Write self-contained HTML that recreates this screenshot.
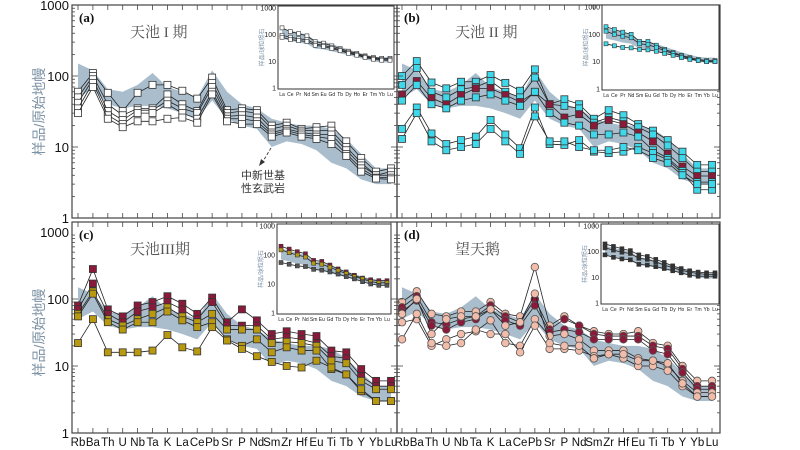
<!DOCTYPE html>
<html><head><meta charset="utf-8"><style>
html,body{margin:0;padding:0;background:#fff;}
svg{display:block;font-family:"Liberation Sans","Noto Sans CJK SC",sans-serif;}
</style></head><body>
<svg id="fig" width="800" height="450" viewBox="0 0 800 450" xmlns="http://www.w3.org/2000/svg">
<rect width="800" height="450" fill="#fff"/>
<g id="layer"></g>
</svg>
<script>
const categories=["Rb","Ba","Th","U","Nb","Ta","K","La","Ce","Pb","Sr","P","Nd","Sm","Zr","Hf","Eu","Ti","Tb","Y","Yb","Lu"];
const reeCategories=["La","Ce","Pr","Nd","Sm","Eu","Gd","Tb","Dy","Ho","Er","Tm","Yb","Lu"];
const yTicks=[1000,100,10,1];
const bandUpper=[150,120,65,60,75,110,70,60,50,120,60,40,35,25,22,20,20,18,13,8,5,5];
const bandLower=[50,65,40,35,38,38,35,30,25,45,25,20,18,10,12,11,9,6,5,3.5,3,3];
const reeBandUpper=[170,140,120,100,60,55,45,35,28,22,18,15,14,14];
const reeBandLower=[70,60,50,45,30,28,24,20,17,14,12,10,9,9];
// panel a
const seriesA1=[60,110,58,32,58,75,75,62,48,95,33,35,33,20,22,18,19,20,12,7,4.5,5];
const seriesA2=[50,100,40,28,35,35,55,40,32,80,30,32,30,18,20,17,17,17,10,6,4,4.5];
const seriesA3=[42,90,32,24,33,33,45,35,30,70,27,28,26,16,18,16,15,15,9,5.5,4,4];
const seriesA4=[35,80,28,21,30,30,40,30,25,60,25,25,23,15,17,15,14,13,8,5,3.7,3.7];
const seriesA5=[30,70,25,19,23,23,25,26,22,55,23,21,21,14,16,14,13,11,7.5,4.5,3.6,3.5];
const reeA1=[180,130,110,90,55,48,38,30,24,20,16,14,13,13];
const reeA2=[95,80,70,65,45,40,33,27,22,18,15,13,12,12];
const reeA3=[80,65,60,55,40,36,30,25,20,17,14,12,11,11];
// panel b
const seriesB1=[100,162,81,67,83,83,103,80,62,124,40,47,40,25,33,28,21,17,12.5,8.6,5.6,5.6];
const seriesB2=[75,130,60,50,65,70,85,60,50,95,40,38,35,22,26,23,19,15,10.5,7,4.5,4.5];
const seriesB3=[55,85,49,40,54,67,67,54,43,59,40,26,29,20,24,21,16,12,8,5.3,3.9,3.9];
const seriesB4=[45,75,40,35,45,50,55,45,38,60,30,22,20,15,15,16,14,9,7,4.6,3.2,3.2];
const seriesB5=[18,36,15.5,11,12.5,14,24,15,9.6,36,11,10.7,12.5,8.6,8.2,8.6,10,8.2,6.6,4.3,2.5,2.5];
const seriesB6=[13,30,12,9,10,11,18,12,8,27,12,12,10,9,9,10,9,7,6,4,3,3];
const reeB1=[190,150,120,100,55,55,40,28,22,17,14,12,11,11];
const reeB2=[130,100,85,75,45,42,33,25,20,16,13,11,10,10];
const reeB3=[45,38,33,32,28,27,24,20,17,14,12,11,10,10];
// panel c
const seriesC1=[80,280,70,55,80,90,110,85,60,105,45,70,48,30,33,30,28,17,16,9,6,6];
const seriesC2=[70,170,60,45,65,75,90,70,50,90,40,40,40,25,27,25,22,14,13,7,5,5];
const seriesC3=[60,130,50,40,50,60,75,55,45,60,35,35,35,22,23,22,20,12,11,6,4.5,4.5];
const seriesC4=[55,120,45,35,45,45,65,48,38,45,25,20,25,16,19,17,17,9,7.5,4.2,3,3];
const seriesC5=[22,50,16,16,16,17,29,19,16.5,38,24,18,14,11.5,10,9.5,12,9.5,7.5,4.5,3,3];
const reeC1=[200,160,130,110,65,60,45,33,26,20,16,14,13,13];
const reeC2=[150,120,100,85,52,48,38,29,23,18,15,12,11,11];
const reeC3=[55,48,42,40,32,30,26,22,18,15,12,10,9,9];
// panel d
const seriesD1=[90,130,60,55,65,65,90,60,55,300,40,55,40,33,30,30,33,22,20,10,6,6];
const seriesD2=[75,110,45,42,50,55,80,55,45,100,35,50,40,30,28,28,28,20,18,9,5,5];
const seriesD3=[65,95,40,35,45,50,70,48,40,80,32,35,32,25,25,25,25,17,15,8,4.5,4.5];
const seriesD4=[45,50,20,25,30,33,48,22,20,50,28,30,25,17,17,17,13,12,10,6,4,4];
const seriesD5=[25,60,22,20,22,35,30,30,16,40,18,18,17,14,15,13,10,10,8.5,5,3.5,3.5];
const seriesD6=[60,100,30,50,55,55,70,40,45,120,22,20,20,13,15,15,12,12,11,5.5,3.5,3.5];
const reeD1=[200,160,130,110,75,65,50,38,28,22,18,16,15,15];
const reeD2=[140,115,95,85,55,50,40,30,24,19,16,14,13,13];
const reeD3=[75,60,52,48,32,30,26,22,18,15,12,11,11,11];

const NS="http://www.w3.org/2000/svg";
const layer=document.getElementById('layer');
function mk(tag,attrs,parent){const e=document.createElementNS(NS,tag);for(const k in attrs)e.setAttribute(k,attrs[k]);(parent||layer).appendChild(e);return e;}

const panels=[
 {id:'a',box:[72,5,397,218],x0:78,x1:391,yT:5,yB:218,label:'(a)',title:'天池 I 期',inset:[278,6,394,89],mark:'sq',
  series:[seriesA1,seriesA2,seriesA3,seriesA4,seriesA5],colors:['#fff','#fff','#fff','#fff','#fff'],ree:[reeA1,reeA2,reeA3],reeColors:['#fff','#fff','#fff'],ylab:true},
 {id:'b',box:[397,5,720,218],x0:402,x1:712,yT:5,yB:218,label:'(b)',title:'天池 II 期',inset:[602,5,719,90],mark:'sq',
  series:[seriesB1,seriesB2,seriesB3,seriesB4,seriesB5,seriesB6],colors:['#3fd8ea','#3fd8ea','#8b1a3a','#3fd8ea','#3fd8ea','#3fd8ea'],ree:[reeB1,reeB2,reeB3],reeColors:['#3fd8ea','#3fd8ea','#3fd8ea'],ylab:false},
 {id:'c',box:[72,222,397,433],x0:78,x1:391,yT:232,yB:433,label:'(c)',title:'天池III期',inset:[277,224,391,314],mark:'sq',
  series:[seriesC1,seriesC2,seriesC3,seriesC4,seriesC5],colors:['#8b1a3a','#8b1a3a','#b8990f','#b8990f','#b8990f'],ree:[reeC1,reeC2,reeC3],reeColors:['#8b1a3a','#b8990f','#555'],ylab:true},
 {id:'d',box:[397,222,720,433],x0:402,x1:712,yT:232,yB:433,label:'(d)',title:'望天鹅',inset:[601,224,719,304],mark:'ci',
  series:[seriesD1,seriesD2,seriesD3,seriesD4,seriesD5,seriesD6],colors:['#f2bcaa','#8b1a3a','#8b1a3a','#f2bcaa','#f2bcaa','#f2bcaa'],ree:[reeD1,reeD2,reeD3],reeColors:['#333','#333','#333'],ylab:false}
];

function yScale(v,yT,yB){return yB-(Math.log10(v)/3)*(yB-yT);}

panels.forEach(p=>{
 const g=mk('g',{});
 
 
 const step=(p.x1-p.x0)/(categories.length-1);
 const xs=i=>p.x0+i*step;
 const ys=v=>yScale(v,p.yT,p.yB);
 let d='';
 bandUpper.forEach((v,i)=>{d+=(i?'L':'M')+xs(i)+' '+ys(v);});
 for(let i=bandLower.length-1;i>=0;i--)d+='L'+xs(i)+' '+ys(bandLower[i]);
 const band=mk('path',{d:d+'Z',fill:'#a9bdcc',stroke:'none'},g);
 
 
 p.series.forEach((s,si)=>{
  const pts=s.map((v,i)=>xs(i)+','+ys(v)).join(' ');
  const ln=mk('polyline',{points:pts,fill:'none',stroke:'#222','stroke-width':0.8},g);
  
  
  s.forEach((v,i)=>{
   let m;
   if(p.mark==='sq') m=mk('rect',{x:xs(i)-3.5,y:ys(v)-3.5,width:7,height:7,fill:p.colors[si],stroke:'#333','stroke-width':0.8},g);
   else m=mk('circle',{cx:xs(i),cy:ys(v),r:3.8,fill:p.colors[si],stroke:'#555','stroke-width':0.8},g);
   
   
  });
 });
 const [bx0,by0,bx1,by1]=p.box;
 const fr=mk('rect',{x:bx0,y:by0,width:bx1-bx0,height:by1-by0,fill:'none',stroke:'#444','stroke-width':1.2},g);
 
 
 categories.forEach((c,i)=>{
  mk('line',{x1:xs(i),x2:xs(i),y1:by1,y2:by1-5,stroke:'#444','stroke-width':0.8},g);
  mk('line',{x1:xs(i),x2:xs(i),y1:by0,y2:by0+5,stroke:'#444','stroke-width':0.8},g);
  if(p.id==='c'||p.id==='d'){
   const t=mk('text',{x:xs(i),y:446,'font-size':11.5,'text-anchor':'middle',fill:'#111'},g);
   t.textContent=c;
   
   
  }
 });
 for(let dec=0;dec<3;dec++){
  for(let k=1;k<10;k++){
   const v=Math.pow(10,dec)*k;const y=ys(v);
   mk('line',{x1:bx0,x2:bx0+(k===1?6:3),y1:y,y2:y,stroke:'#444','stroke-width':0.8},g);
   mk('line',{x1:bx1,x2:bx1-(k===1?6:3),y1:y,y2:y,stroke:'#444','stroke-width':0.8},g);
  }
 }
 if(p.ylab){
  yTicks.forEach(v=>{
   const t=mk('text',{x:bx0-3,y:ys(v)+5,'font-size':13,'text-anchor':'end',fill:'#111'},g);
   t.textContent=String(v);
   
   
  });
  const cy=(p.yT+p.yB)/2;
  const yt=mk('text',{x:44,y:cy,'font-size':14,'text-anchor':'middle',fill:'#7e93a6',transform:'rotate(-90 44 '+cy+')'},g);
  yt.textContent='样品/原始地幔';
  
  
 }
 const lb=mk('text',{x:bx0+7,y:by0+17,'font-size':13,'font-weight':'bold',fill:'#111','font-family':'Liberation Serif,serif'},g);
 lb.textContent=p.label;
 
 
 const tt=mk('text',{x:bx0+58,y:by0+32,'font-size':15,fill:'#555','font-family':'Liberation Serif,Noto Serif CJK SC,serif'},g);
 tt.textContent=p.title;
 
 
 const [ix0,iy0,ix1,iy1]=p.inset;
 const ig=mk('g',{},g);
 
 
 mk('rect',{x:ix0,y:iy0,width:ix1-ix0,height:iy1-iy0,fill:'#fff',stroke:'#333','stroke-width':1},ig);
 const iyT=iy0+2,iyB=iy1-1;
 const istep=(ix1-ix0-8)/(reeCategories.length-1);
 const ixs=i=>ix0+4+i*istep;
 const iys=v=>yScale(v,iyT,iyB);
 let bd='';
 reeBandUpper.forEach((v,i)=>{bd+=(i?'L':'M')+ixs(i)+' '+iys(v);});
 for(let i=reeBandLower.length-1;i>=0;i--)bd+='L'+ixs(i)+' '+iys(reeBandLower[i]);
 const ib=mk('path',{d:bd+'Z',fill:'#a9bdcc'},ig);
 
 
 p.ree.forEach((s,si)=>{
  const l=mk('polyline',{points:s.map((v,i)=>ixs(i)+','+iys(v)).join(' '),fill:'none',stroke:'#222','stroke-width':0.8},ig);
  
  
  s.forEach((v,i)=>{
   const r=mk('rect',{x:ixs(i)-2,y:iys(v)-2,width:4,height:4,fill:p.reeColors[si],stroke:'#333','stroke-width':0.6},ig);
   
   
  });
 });
 yTicks.forEach(v=>{
  const t=mk('text',{x:ix0-2,y:iys(v)+2.5,'font-size':7,'text-anchor':'end',fill:'#222'},ig);
  t.textContent=String(v);
  
  
 });
 reeCategories.forEach((c,i)=>{
  const t=mk('text',{x:ixs(i),y:iy1+7,'font-size':5,'text-anchor':'middle',fill:'#222'},ig);
  t.textContent=c;
  
  
 });
 const iyl=mk('text',{x:ix0-14,y:(iy0+iy1)/2,'font-size':6,'text-anchor':'middle',fill:'#7e93a6',transform:'rotate(-90 '+(ix0-14)+' '+((iy0+iy1)/2)+')'},ig);
 iyl.textContent='样品/球粒陨石';
 
 
});

const ann=mk('g',{});


mk('line',{x1:271,y1:148,x2:262,y2:163,stroke:'#333','stroke-width':0.9,'stroke-dasharray':'3,2'},ann);
mk('path',{d:'M259 166 L261 159 L265 162 Z',fill:'#333'},ann);
const a1=mk('text',{x:263,y:179,'font-size':11,'text-anchor':'middle',fill:'#333'},ann);a1.textContent='中新世基';
const a2=mk('text',{x:263,y:192,'font-size':11,'text-anchor':'middle',fill:'#333'},ann);a2.textContent='性玄武岩';
</script>
</body></html>
